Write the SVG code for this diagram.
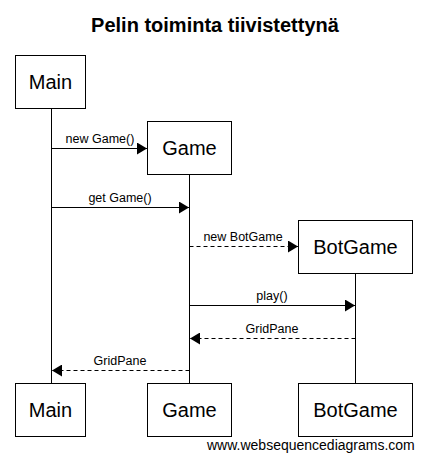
<svg xmlns="http://www.w3.org/2000/svg" width="427" height="461" viewBox="0 0 427 461">
<defs>
<marker id="ah" markerWidth="10" markerHeight="12" refX="10" refY="6" orient="auto" markerUnits="userSpaceOnUse">
<path d="M0,0 L10,6 L0,12 Z" fill="#000"/>
</marker>
<style>
.box{fill:#fff;stroke:#000;stroke-width:1}
.ll{stroke:#000;stroke-width:1}
.nl{font-family:"Liberation Sans",Arial,sans-serif;font-size:20px;text-anchor:middle}
.ml{font-family:"Liberation Sans",Arial,sans-serif;font-size:12.5px;text-anchor:middle}
.m{stroke:#000;stroke-width:1;fill:none;marker-end:url(#ah)}
.d{stroke-dasharray:4,3}
</style>
</defs>
<rect width="427" height="461" fill="#fff"/>
<text x="215" y="32" font-family="Liberation Sans,Arial,sans-serif" font-size="20" font-weight="bold" text-anchor="middle">Pelin toiminta tiivistettynä</text>
<g id="lifelines">
<line class="ll" x1="51.5" y1="108" x2="51.5" y2="383"/>
<line class="ll" x1="189.5" y1="174" x2="189.5" y2="383"/>
<line class="ll" x1="355.5" y1="273" x2="355.5" y2="383"/>
</g>
<g id="connectors">
<line class="m" x1="51.5" y1="148.5" x2="147" y2="148.5"/>
<text class="ml" x="100" y="143">new Game()</text>
<line class="m" x1="51.5" y1="207.5" x2="189" y2="207.5"/>
<text class="ml" x="120" y="202">get Game()</text>
<line class="m d" x1="189.5" y1="246.5" x2="298" y2="246.5"/>
<text class="ml" x="243" y="241">new BotGame</text>
<line class="m" x1="189.5" y1="305.5" x2="355" y2="305.5"/>
<text class="ml" x="272" y="300">play()</text>
<line class="m d" x1="355.5" y1="338.5" x2="190" y2="338.5"/>
<text class="ml" x="272" y="333">GridPane</text>
<line class="m d" x1="189.5" y1="370.5" x2="52" y2="370.5"/>
<text class="ml" x="120" y="365">GridPane</text>
</g>
<g id="Main">
<rect class="box" x="15.5" y="55.5" width="70" height="53"/>
<text class="nl" x="50.5" y="89">Main</text>
</g>
<g id="Game">
<rect class="box" x="147.5" y="121.5" width="84" height="53"/>
<text class="nl" x="189.5" y="155">Game</text>
</g>
<g id="BotGame">
<rect class="box" x="298.5" y="220.5" width="114" height="53"/>
<text class="nl" x="355.5" y="254">BotGame</text>
</g>
<g id="Main_bottom">
<rect class="box" x="15.5" y="383.5" width="70" height="53"/>
<text class="nl" x="50.5" y="417">Main</text>
</g>
<g id="Game_bottom">
<rect class="box" x="147.5" y="383.5" width="84" height="53"/>
<text class="nl" x="189.5" y="417">Game</text>
</g>
<g id="BotGame_bottom">
<rect class="box" x="298.5" y="383.5" width="114" height="53"/>
<text class="nl" x="355.5" y="417">BotGame</text>
</g>
<text x="207" y="450" font-family="Liberation Sans,Arial,sans-serif" font-size="14">www.websequencediagrams.com</text>
</svg>
